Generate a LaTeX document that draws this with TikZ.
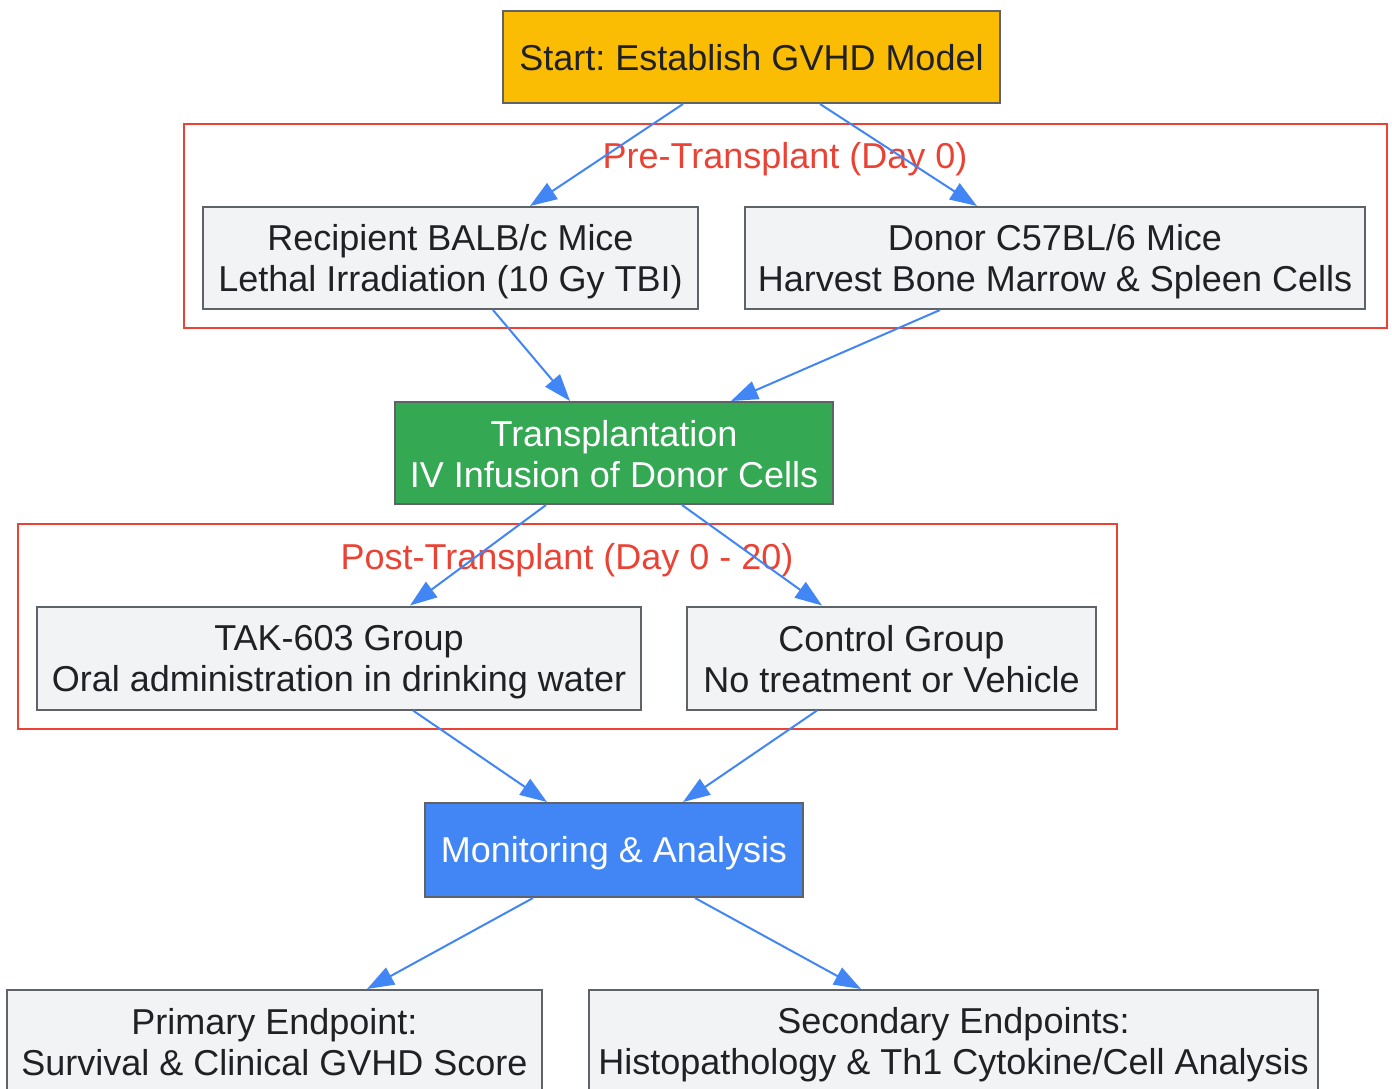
\documentclass[tikz,border=0pt]{standalone}
\usepackage{fontspec}
\setmainfont{Liberation Sans}
\frenchspacing
\usetikzlibrary{arrows.meta}
\definecolor{gyellow}{HTML}{FBBC04}
\definecolor{ggreen}{HTML}{34A853}
\definecolor{gblue}{HTML}{4285F4}
\definecolor{gred}{HTML}{EA4335}
\definecolor{gfill}{HTML}{F1F3F4}
\definecolor{gedge}{HTML}{5F6368}
\definecolor{gtext}{HTML}{202124}
\newcommand\gstrut{\rule[-5pt]{0pt}{38pt}}

\begin{document}
\begin{tikzpicture}[x=1pt,y=-1pt,
    every node/.style={font=\fontsize{36}{41}\selectfont},
    box/.style={draw=gedge,line width=2pt,fill=gfill,text=gtext,align=center,inner sep=0pt},
    cluster/.style={draw=gred,line width=2pt},
    clusterlabel/.style={text=gred},
    flow/.style={draw=gblue,line width=2pt,-{Triangle[length=27pt,width=19pt]}}]
      \useasboundingbox (0,0) rectangle (1392,1089);
      \clip (0,0) rectangle (1392,1089);

      % phase frames
      \draw[cluster] (184,124) rectangle (1387,328);
      \node[clusterlabel] (prelabel) at (785,159) {Pre-Transplant (Day 0)};
      \draw[cluster] (18,524) rectangle (1117,729);
      \node[clusterlabel] (postlabel) at (567,560) {Post-Transplant (Day 0 - 20)};

      \node[box,fill=gyellow,minimum width=497pt,minimum height=92pt] (start) at (751.5,57) {\gstrut Start: Establish GVHD Model};
      \node[box,minimum width=495pt,minimum height=102pt] (recip) at (450.5,258) {\gstrut Recipient BALB/c Mice\\\gstrut Lethal Irradiation (10 Gy TBI)};
      \node[box,minimum width=620pt,minimum height=102pt] (donor) at (1055,258) {\gstrut Donor C57BL/6 Mice\\\gstrut Harvest Bone Marrow \& Spleen Cells};
      \node[box,fill=ggreen,text=white,minimum width=438pt,minimum height=102pt] (transp) at (614,453) {\gstrut Transplantation\\\gstrut IV Infusion of Donor Cells};
      \node[box,minimum width=604pt,minimum height=103pt] (tak) at (339,658) {\gstrut TAK-603 Group\\\gstrut Oral administration in drinking water};
      \node[box,minimum width=409pt,minimum height=103pt] (ctrl) at (891.5,658) {\gstrut Control Group\\\gstrut No treatment or Vehicle};
      \node[box,fill=gblue,text=white,minimum width=378pt,minimum height=94pt] (monit) at (614,850) {\gstrut Monitoring \& Analysis};
      \node[box,minimum width=535pt,minimum height=102pt] (prim) at (274.5,1041) {\gstrut Primary Endpoint:\\\gstrut Survival \& Clinical GVHD Score};
      \node[box,minimum width=729pt,minimum height=102pt] (sec) at (953.5,1041) {\gstrut Secondary Endpoints:\\\gstrut Histopathology \& Th1 Cytokine/Cell Analysis};

      \draw[flow] ([xshift=-68.5pt]start.south) -- ([xshift=79.5pt]recip.north);
      \draw[flow] ([xshift=68.5pt]start.south) -- ([xshift=-78pt]donor.north);
      \draw[flow] ([xshift=42.5pt]recip.south) -- ([xshift=-44pt]transp.north);
      \draw[flow] ([xshift=-115pt]donor.south) -- ([xshift=117pt]transp.north);
      \draw[flow] ([xshift=-68pt]transp.south) -- ([xshift=71pt]tak.north);
      \draw[flow] ([xshift=68pt]transp.south) -- ([xshift=-69.5pt]ctrl.north);
      \draw[flow] ([xshift=74pt]tak.south) -- ([xshift=-67pt]monit.north);
      \draw[flow] ([xshift=-74.5pt]ctrl.south) -- ([xshift=69pt]monit.north);
      \draw[flow] ([xshift=-81pt]monit.south) -- ([xshift=92.5pt]prim.north);
      \draw[flow] ([xshift=81pt]monit.south) -- ([xshift=-92.5pt]sec.north);
\end{tikzpicture}
\end{document}
